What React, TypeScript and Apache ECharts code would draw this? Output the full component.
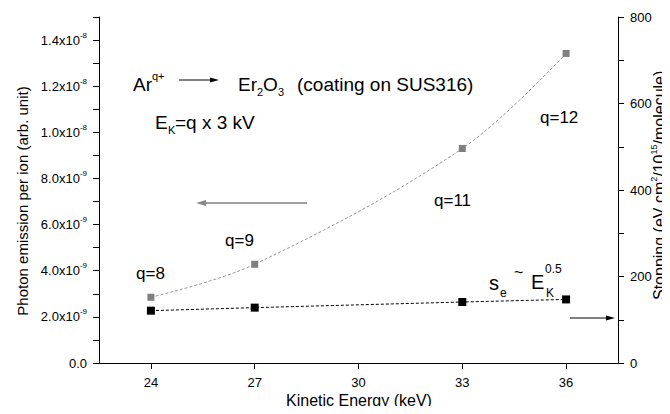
import React, { useEffect, useRef } from 'react';
import * as echarts from 'echarts';

// ---- data ----
const energies = [24, 27, 33, 36]; // keV
const chargeStates = ['q=8', 'q=9', 'q=11', 'q=12'];
const photonEmission = [2.85e-9, 4.28e-9, 9.3e-9, 1.342e-8]; // arb. unit
const stoppingPower = [121, 128, 141, 147]; // eV cm2/1e15/molecule
const xTickValues = [24, 27, 30, 33, 36];
const leftLabelValues = [0, 2e-9, 4e-9, 6e-9, 8e-9, 1.0e-8, 1.2e-8, 1.4e-8];
const leftTickValues = [0, 1e-9, 2e-9, 3e-9, 4e-9, 5e-9, 6e-9, 7e-9, 8e-9, 9e-9, 1.0e-8, 1.1e-8, 1.2e-8, 1.3e-8, 1.4e-8, 1.5e-8];
const rightLabelValues = [0, 200, 400, 600, 800];
const rightTickValues = [0, 100, 200, 300, 400, 500, 600, 700, 800];

const FONT = '"Liberation Sans", Arial, sans-serif';

function fmtLeft(v: number): string {
  if (v === 0) return '{a|0.0}';
  const e = Math.floor(Math.log10(v) + 1e-6);
  const m = v / Math.pow(10, e);
  return `{a|${m.toFixed(1)}x10}{b|${e}}`;
}

function txt(text: string, x: number, y: number, size: number, extra: any = {}) {
  return {
    type: 'text',
    x,
    y,
    silent: true,
    style: {
      text,
      fontSize: size,
      fontFamily: FONT,
      fill: '#000',
      align: 'left',
      verticalAlign: 'middle',
      ...extra,
    },
  };
}

export default function App() {
  const ref = useRef<HTMLDivElement>(null);
  useEffect(() => {
    if (!ref.current) return;
    const chart = echarts.init(ref.current, undefined, { renderer: 'svg' });
    const grayData = energies.map((e, i) => [e, photonEmission[i]]);
    const blackData = energies.map((e, i) => [e, stoppingPower[i]]);
    const qPos: [number, number][] = [
      [136, 273],
      [225, 240],
      [434, 200],
      [540, 117],
    ];
    const option: any = {
      animation: false,
      grid: { left: 99, right: 52, top: 17, bottom: 51 },
      xAxis: {
        type: 'value',
        min: 22.5,
        max: 37.5,
        axisLine: { show: true, lineStyle: { color: '#000', width: 1 } },
        axisTick: { show: true, customValues: xTickValues, length: 6, lineStyle: { color: '#000' } },
        axisLabel: { customValues: xTickValues, fontSize: 13, color: '#000', fontFamily: FONT, margin: 13 },
        splitLine: { show: false },
      },
      yAxis: [
        {
          type: 'value',
          min: 0,
          max: 1.5e-8,
          position: 'left',
          axisLine: { show: true, lineStyle: { color: '#000', width: 1 } },
          axisTick: { show: true, customValues: leftTickValues, length: 6, lineStyle: { color: '#000' } },
          axisLabel: {
            customValues: leftLabelValues,
            formatter: fmtLeft,
            margin: 12,
            color: '#000',
            rich: {
              a: { fontSize: 13, fontFamily: FONT, color: '#000', lineHeight: 18 },
              b: { fontSize: 8, fontFamily: FONT, color: '#000', verticalAlign: 'top', lineHeight: 10 },
            },
          },
          splitLine: { show: false },
        },
        {
          type: 'value',
          min: 0,
          max: 800,
          position: 'right',
          axisLine: { show: true, lineStyle: { color: '#000', width: 1 } },
          axisTick: { show: true, customValues: rightTickValues, length: 6, lineStyle: { color: '#000' } },
          axisLabel: { customValues: rightLabelValues, fontSize: 13, color: '#000', fontFamily: FONT, margin: 12 },
          splitLine: { show: false },
        },
      ],
      series: [
        {
          name: 'Photon emission',
          type: 'line',
          yAxisIndex: 0,
          data: grayData,
          smooth: 0.35,
          symbol: 'rect',
          symbolSize: 7,
          itemStyle: { color: '#7f7f7f' },
          lineStyle: { color: '#999', width: 1, type: [3, 2] },
          z: 3,
        },
        {
          name: 'Stopping',
          type: 'line',
          yAxisIndex: 1,
          data: blackData,
          symbol: 'rect',
          symbolSize: 8,
          itemStyle: { color: '#000' },
          lineStyle: { color: '#000', width: 1, type: [3, 2] },
          z: 3,
        },
      ],
      graphic: [
        // axis names
        {
          type: 'text',
          x: 22,
          y: 201,
          rotation: Math.PI / 2,
          silent: true,
          style: {
            text: 'Photon emission per ion (arb. unit)',
            fontSize: 15,
            fontFamily: FONT,
            fill: '#000',
            align: 'center',
            verticalAlign: 'middle',
          },
        },
        {
          type: 'text',
          x: 659,
          y: 300,
          rotation: Math.PI / 2,
          silent: true,
          style: {
            text: '{n|Stopping (eV cm}{s|2}{n|/10}{s|15}{n|/molecule)}',
            align: 'left',
            verticalAlign: 'middle',
            rich: {
              n: { fontSize: 16, fontFamily: FONT, fill: '#000', lineHeight: 20 },
              s: { fontSize: 9, fontFamily: FONT, fill: '#000', verticalAlign: 'top', lineHeight: 10 },
            },
          },
        },
        txt('Kinetic Energy (keV)', 359, 400, 16, { align: 'center' }),
        // title line
        txt('Ar', 133, 84, 19),
        txt('q+', 152, 76, 11),
        { type: 'line', silent: true, shape: { x1: 179, y1: 80, x2: 212, y2: 80 }, style: { stroke: '#000', lineWidth: 1 } },
        { type: 'polygon', silent: true, shape: { points: [[219, 80], [210, 77.5], [210, 82.5]] }, style: { fill: '#000' } },
        txt('Er', 238, 84, 19),
        txt('2', 257, 92, 11),
        txt('O', 263, 84, 19),
        txt('3', 278, 92, 11),
        txt('(coating on SUS316)', 297, 84, 19),
        // E_K line
        txt('E', 155, 122, 19),
        txt('K', 168, 130, 11),
        txt('=q x 3 kV', 175, 122, 19),
        // charge state labels
        ...chargeStates.map((q, i) => txt(q, qPos[i][0], qPos[i][1], 17)),
        // s_e ~ E_K^0.5
        txt('s', 489, 283, 20),
        txt('e', 500, 293, 12),
        txt('~', 514, 272, 16),
        txt('E', 531, 282, 20),
        txt('0.5', 545, 269, 12),
        txt('K', 546, 293, 12),
        // gray arrow (left axis)
        { type: 'line', silent: true, shape: { x1: 204, y1: 203, x2: 307, y2: 203 }, style: { stroke: '#a0a0a0', lineWidth: 2 } },
        { type: 'polygon', silent: true, shape: { points: [[196, 203], [206, 200], [206, 206]] }, style: { fill: '#888' } },
        // black arrow (right axis)
        { type: 'line', silent: true, shape: { x1: 570, y1: 318, x2: 607, y2: 318 }, style: { stroke: '#000', lineWidth: 1 } },
        { type: 'polygon', silent: true, shape: { points: [[615, 318], [606, 315.5], [606, 320.5]] }, style: { fill: '#000' } },
      ],
    };
    chart.setOption(option);
    return () => chart.dispose();
  }, []);
  return <div ref={ref} style={{ width: 670, height: 414, margin: -8 }} />;
}
